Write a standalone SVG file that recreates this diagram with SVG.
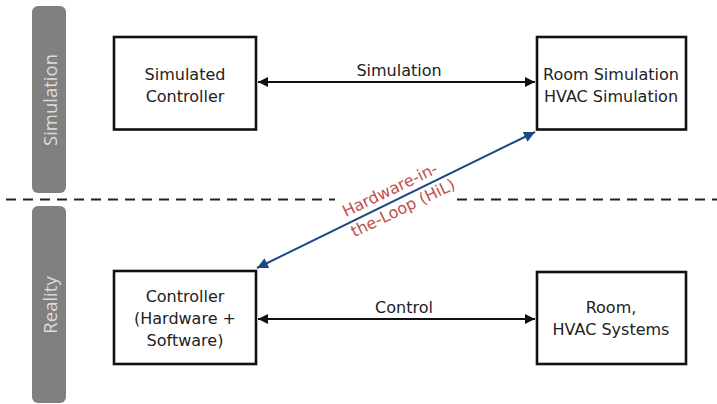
<svg xmlns="http://www.w3.org/2000/svg" width="717" height="404" viewBox="0 0 717 404">
  <style>
    .box { fill: #ffffff; stroke: #111111; stroke-width: 2.6; }
    .lbl { font-family: "DejaVu Sans", "Liberation Sans", sans-serif; font-size: 16px; fill: #222222; text-anchor: middle; }
    .bar { fill: #808080; }
    .barlbl { font-family: "Open Sans", "DejaVu Sans", sans-serif; font-size: 18.5px; fill: #dcdcdc; text-anchor: middle; }
    .hil { font-family: "DejaVu Sans", "Liberation Sans", sans-serif; font-size: 16px; fill: #c0504d; text-anchor: middle; }
    .dash { stroke: #222222; stroke-width: 2; stroke-dasharray: 10 7; fill: none; }
    .conn { stroke: #111111; stroke-width: 2; fill: none; }
    .hilconn { stroke: #1b4a82; stroke-width: 2; fill: none; }
  </style>
  <defs>
    <marker id="ah" viewBox="0 0 10 10" refX="10" refY="5" markerWidth="5" markerHeight="5" orient="auto-start-reverse" markerUnits="strokeWidth">
      <path d="M0,0 L10,5 L0,10 Z" fill="#111111"/>
    </marker>
    <marker id="ahb" viewBox="0 0 10 10" refX="10" refY="5" markerWidth="5.5" markerHeight="5.5" orient="auto-start-reverse" markerUnits="strokeWidth">
      <path d="M0,0 L10,5 L0,10 Z" fill="#1b4a82"/>
    </marker>
  </defs>
  <rect width="717" height="404" fill="#ffffff"/>

  <g id="lane-simulation">
    <rect class="bar" x="32" y="6" width="34" height="187" rx="6"/>
    <text class="barlbl" transform="translate(56.5,100) rotate(-90)">Simulation</text>
  </g>
  <g id="lane-reality">
    <rect class="bar" x="32" y="206" width="34" height="197" rx="6"/>
    <text class="barlbl" transform="translate(56.5,305) rotate(-90)">Reality</text>
  </g>

  <g id="divider">
    <line class="dash" x1="6" y1="199.5" x2="335" y2="199.5"/>
    <line class="dash" x1="457" y1="199.5" x2="717" y2="199.5"/>
  </g>

  <g id="simulated-controller">
    <rect class="box" x="114" y="37" width="142" height="92.5"/>
    <text class="lbl" x="185" y="80">Simulated</text>
    <text class="lbl" x="185" y="102">Controller</text>
  </g>
  <g id="room-simulation">
    <rect class="box" x="537" y="37" width="149" height="92.5"/>
    <text class="lbl" x="611" y="80">Room Simulation</text>
    <text class="lbl" x="611" y="102">HVAC Simulation</text>
  </g>
  <g id="controller">
    <rect class="box" x="114" y="271" width="142" height="93"/>
    <text class="lbl" x="185" y="302">Controller</text>
    <text class="lbl" x="185" y="324">(Hardware +</text>
    <text class="lbl" x="185" y="346">Software)</text>
  </g>
  <g id="room-hvac">
    <rect class="box" x="537" y="272" width="149" height="92"/>
    <text class="lbl" x="611" y="313">Room,</text>
    <text class="lbl" x="611" y="335">HVAC Systems</text>
  </g>

  <g id="connectors">
    <line class="conn" x1="258" y1="82" x2="535" y2="82" marker-start="url(#ah)" marker-end="url(#ah)"/>
    <text class="lbl" x="399" y="76">Simulation</text>
    <line class="conn" x1="258" y1="319" x2="535" y2="319" marker-start="url(#ah)" marker-end="url(#ah)"/>
    <text class="lbl" x="404" y="313">Control</text>
    <line class="hilconn" x1="257" y1="268" x2="535" y2="132" marker-start="url(#ahb)" marker-end="url(#ahb)"/>
    <g transform="translate(398,197.6) rotate(-25.7)">
      <text class="hil" x="-4" y="-5">Hardware-in-</text>
      <text class="hil" x="0" y="17">the-Loop (HiL)</text>
    </g>
  </g>
</svg>
